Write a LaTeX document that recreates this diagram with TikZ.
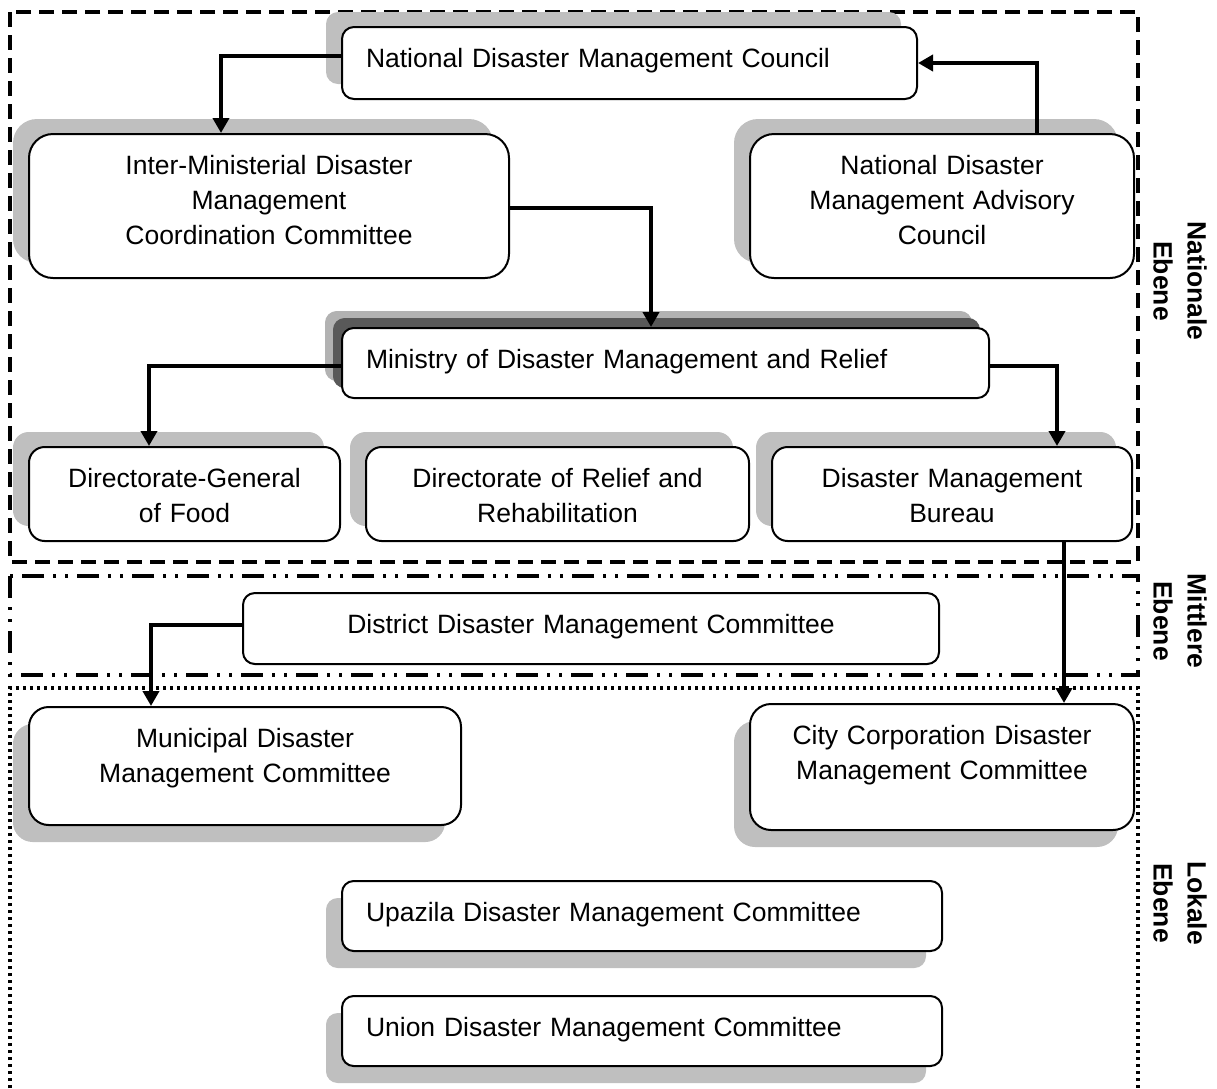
\documentclass[tikz,border=0pt]{standalone}
\usepackage{fontspec}
\setmainfont{Liberation Sans}
\usetikzlibrary{arrows.meta,shadows}
\definecolor{shadegray}{HTML}{BFBFBF}
\definecolor{lightshade}{HTML}{B2B2B2}
\definecolor{darkshade}{HTML}{595959}
\begin{document}
\begin{tikzpicture}
[x=1pt,y=-1pt,font=\fontsize{26.5}{35}\selectfont,
  boxdecorate/.style={draw,line width=2pt,fill=white,anchor=north west,
    inner xsep=24pt,inner ysep=0pt,text height=40pt},
  upshade/.style={drop shadow={shadow xshift=-16pt,shadow yshift=15pt,
    fill=shadegray,opacity=1}},
  downshade/.style={drop shadow={shadow xshift=-16pt,shadow yshift=-17pt,
    fill=shadegray,opacity=1}},
  upmid/.style={upshade,align=center},
  upleft/.style={upshade,align=left},
  downmid/.style={downshade,align=center},
  downleft/.style={downshade,align=left},
  plainmid/.style={align=center},
  ministryleft/.style={align=left,
    drop shadow={shadow xshift=-17pt,shadow yshift=17pt,fill=lightshade,opacity=1},
    drop shadow={shadow xshift=-9pt,shadow yshift=10pt,fill=darkshade,opacity=1}},
  leveldecorate/.style={rotate=-90,align=center,
    font=\fontsize{26.5}{34}\selectfont\bfseries},
  framedecorate/.style={line width=3.5pt},
  linedecorate/.style={line width=4pt,-{Triangle[length=15pt,width=16pt]}}]
\useasboundingbox (0,0) rectangle (1217,1088);
%% level frames
\draw[framedecorate,dash pattern=on 15pt off 8pt] (10,12) rectangle (1138,562);
\draw[framedecorate,dash pattern=on 22pt off 9pt on 3pt off 9pt on 3pt off 9pt]
  (10,576) rectangle (1138,675);
\draw[framedecorate,dash pattern=on 3pt off 4pt]
  (10,1088) -- (10,688) -- (1138,688) -- (1138,1088);
%% boxes
\foreach \nodename/\x/\y/\w/\h/\look/\boxtext in {
  council/341/26/575/72/upleft/{National Disaster Management Council},
  inter/28/133/480/144/upmid/{Inter-Ministerial Disaster\\Management\\Coordination Committee},
  advisory/749/133/384/144/upmid/{National Disaster\\Management Advisory\\Council},
  ministry/341/327/647/70/ministryleft/{Ministry of Disaster Management and Relief},
  dgf/28/446/311/94/upmid/{Directorate-General\\of Food},
  drr/365/446/383/94/upmid/{Directorate of Relief and\\Rehabilitation},
  bureau/771/446/360/94/upmid/{Disaster Management\\Bureau},
  district/242/592/696/71/plainmid/{District Disaster Management Committee},
  muni/28/706/432/118/downmid/{Municipal Disaster\\Management Committee},
  city/749/703/384/126/downmid/{City Corporation Disaster\\Management Committee},
  upazila/341/880/600/70/downleft/{Upazila Disaster Management Committee},
  union/341/995/600/70/downleft/{Union Disaster Management Committee}} {
  \pgfmathsetmacro\tw{\w-48}
  \pgfmathsetmacro\td{\h-40}
  \pgfmathsetmacro\rr{\h/6}
  \node (\nodename) at (\x,\y) [boxdecorate,\look,rounded corners=\rr pt,
    text width=\tw pt,text depth=\td pt] {\boxtext};
}
%% level names
\foreach \levelname/\y/\levelword in {national/281/Nationale,
  middle/621/Mittlere, local/903/Lokale} {
  \node (\levelname) at (1180,\y) [leveldecorate] {\levelword\\Ebene};
}
%% connectors
\draw[linedecorate] ([yshift=7pt]council.west) -| ([xshift=-48pt]inter.north);
\draw[linedecorate] ([xshift=95pt]advisory.north) |- (council.east);
\draw[linedecorate] ([yshift=-2pt]inter.east) -| ([xshift=-14.5pt]ministry.north);
\draw[linedecorate] ([yshift=-3pt]ministry.west) -| ([xshift=-35.5pt]dgf.north);
\draw[linedecorate] ([yshift=-3pt]ministry.east) -| ([xshift=105pt]bureau.north);
\draw[linedecorate] ([xshift=112pt]bureau.south) -- ([xshift=122pt]city.north);
\draw[linedecorate] ([yshift=3.5pt]district.west) -| ([xshift=-94pt]muni.north);
\end{tikzpicture}
\end{document}
